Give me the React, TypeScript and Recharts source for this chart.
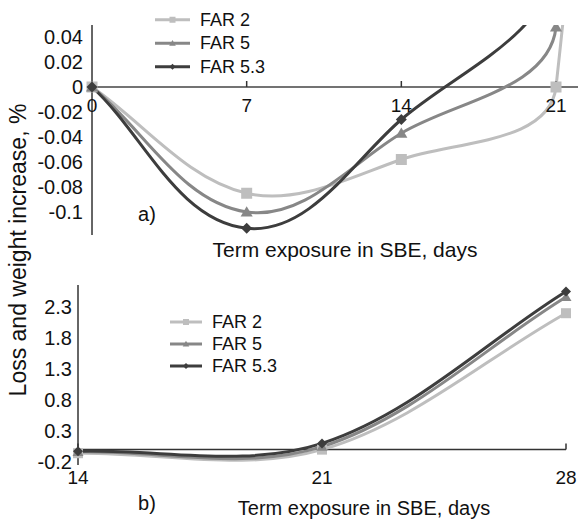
import { LineChart, Line, XAxis, YAxis, ReferenceLine, ReferenceDot } from "recharts";

// same series for both panels; a) is the 0-21 zoom, b) shows 14-28
const days = [0, 7, 14, 21, 28];
const far2 = [0, -0.085, -0.058, 0, 2.2];
const far5 = [0, -0.1, -0.037, 0.048, 2.46];
const far53 = [0, -0.113, -0.026, 0.1, 2.55];

const xTicksA = [0, 7, 14, 21];
const yTicksA = [-0.1, -0.08, -0.06, -0.04, -0.02, 0, 0.02, 0.04];
const xTicksB = [14, 21, 28];
const yTicksB = [-0.2, 0.3, 0.8, 1.3, 1.8, 2.3];

const names = ["FAR 2", "FAR 5", "FAR 5.3"];
const keys = ["far2", "far5", "far53"];
const colors = ["#bebebe", "#878787", "#3d3d3d"];
const shapes = ["square", "triangle", "diamond"];

const font = '"Liberation Sans", Arial, sans-serif';

const rows = days.map((day, i) => ({ day, far2: far2[i], far5: far5[i], far53: far53[i] }));
const dataA = rows;
const dataB = rows.filter((r) => r.day >= 14);

// excel style smoothed line: bezier through the points, tangent along the
// neighbours, handle length a third of the segment
const smoothCurve = (ctx: any) => {
  let pts: number[][] = [];
  const unit = (a: number[], b: number[]) => {
    const dx = b[0] - a[0];
    const dy = b[1] - a[1];
    const l = Math.hypot(dx, dy) || 1;
    return [dx / l, dy / l];
  };
  return {
    areaStart() {},
    areaEnd() {},
    lineStart() {
      pts = [];
    },
    point(x: number, y: number) {
      pts.push([+x, +y]);
    },
    lineEnd() {
      const n = pts.length;
      if (!n) return;
      ctx.moveTo(pts[0][0], pts[0][1]);
      for (let i = 0; i < n - 1; i++) {
        const p0 = pts[Math.max(i - 1, 0)];
        const p1 = pts[i];
        const p2 = pts[i + 1];
        const p3 = pts[Math.min(i + 2, n - 1)];
        const len = Math.hypot(p2[0] - p1[0], p2[1] - p1[1]) / 3;
        const t1 = unit(p0, p2);
        const t2 = unit(p1, p3);
        ctx.bezierCurveTo(
          p1[0] + t1[0] * len,
          p1[1] + t1[1] * len,
          p2[0] - t2[0] * len,
          p2[1] - t2[1] * len,
          p2[0],
          p2[1]
        );
      }
    },
  };
};

function Marker({ shape, cx, cy, size, color }: any) {
  if (cx == null || cy == null) return null;
  const h = size / 2;
  if (shape === "square") {
    return <rect x={cx - h} y={cy - h} width={size} height={size} fill={color} />;
  }
  if (shape === "triangle") {
    return (
      <polygon
        points={`${cx},${cy - h * 1.05} ${cx + h * 1.1},${cy + h * 0.8} ${cx - h * 1.1},${cy + h * 0.8}`}
        fill={color}
      />
    );
  }
  return <polygon points={`${cx},${cy - h} ${cx + h},${cy} ${cx},${cy + h} ${cx - h},${cy}`} fill={color} />;
}

const renderSeries = (size: number) =>
  keys.map((k, i) => (
    <Line
      key={k}
      dataKey={k}
      name={names[i]}
      type={smoothCurve as any}
      stroke={colors[i]}
      strokeWidth={3}
      dot={(p: any) => (
        <Marker key={`${k}-${p.index}`} shape={shapes[i]} cx={p.cx} cy={p.cy} size={size} color={colors[i]} />
      )}
      activeDot={false}
      isAnimationActive={false}
    />
  ));

const xTick = (label: string, gap: number) => (p: any) => (
  <g>
    <line x1={p.cx} x2={p.cx} y1={p.cy - 6} y2={p.cy} stroke="#333" strokeWidth={1.5} />
    <text
      x={p.cx}
      y={p.cy + gap}
      textAnchor="middle"
      dominantBaseline="central"
      fontSize={19}
      fontFamily={font}
      fill="#111"
    >
      {label}
    </text>
  </g>
);

function FarLegend({ left, top, rowGap, lineLen }: any) {
  return (
    <svg style={{ position: "absolute", left, top, overflow: "visible" }} width={130} height={rowGap * 3}>
      {names.map((n, i) => {
        const y = rowGap * i + rowGap / 2;
        return (
          <g key={n}>
            <line x1={0} x2={lineLen} y1={y} y2={y} stroke={colors[i]} strokeWidth={3} />
            <Marker shape={shapes[i]} cx={lineLen / 2} cy={y} size={6} color={colors[i]} />
            <text x={lineLen + 10} y={y} dominantBaseline="central" fontSize={18} fontFamily={font} fill="#111">
              {n}
            </text>
          </g>
        );
      })}
    </svg>
  );
}

const tickStyle = { fontSize: 20, fontFamily: font, fill: "#111" };

export default function App() {
  return (
    <div style={{ position: "absolute", left: 0, top: 0, width: 578, height: 520, background: "#fff" }}>
      {/* a) the plot runs past the visible box, the box cuts it like the original */}
      <div style={{ position: "absolute", left: 0, top: 25, width: 578, height: 245, overflow: "hidden" }}>
        <LineChart
          width={716}
          height={272}
          data={dataA}
          margin={{ top: 25, right: 5.33, bottom: 5, left: 0 }}
          style={{ position: "absolute", left: 0, top: -57 }}
        >
          <XAxis dataKey="day" type="number" domain={[-0.317, 28]} hide />
          <YAxis
            type="number"
            domain={[-0.1184, 0.0752]}
            allowDataOverflow
            ticks={yTicksA}
            width={85}
            tickLine={false}
            tickSize={0}
            tickMargin={2}
            axisLine={false}
            tick={tickStyle}
            interval={0}
          />
          <ReferenceLine x={0} stroke="#333" strokeWidth={1.5} />
          <ReferenceLine
            segment={[
              { x: 0, y: 0 },
              { x: 28, y: 0 },
            ]}
            stroke="#444"
            strokeWidth={1.5}
          />
          {xTicksA.map((d) => (
            <ReferenceDot key={d} x={d} y={0} r={0} shape={xTick(String(d), 18)} />
          ))}
          {renderSeries(11)}
        </LineChart>
      </div>

      {/* b) */}
      <LineChart
        width={578}
        height={260}
        data={dataB}
        margin={{ top: 25, right: 12, bottom: 55, left: 0 }}
        style={{ position: "absolute", left: 0, top: 260 }}
      >
        <XAxis dataKey="day" type="number" domain={[14, 28]} hide />
        <YAxis
          type="number"
          domain={[-0.248, 2.655]}
          ticks={yTicksB}
          width={78}
          tickLine={false}
          tickSize={4}
          tickMargin={2}
          axisLine={{ stroke: "#333", strokeWidth: 1.5 }}
          tick={tickStyle}
          interval={0}
        />
        <ReferenceLine y={0} stroke="#333" strokeWidth={1.5} />
        {xTicksB.map((d) => (
          <ReferenceDot key={d} x={d} y={0} r={0} shape={xTick(String(d), 28)} />
        ))}
        {renderSeries(10)}
      </LineChart>

      <FarLegend left={155} top={8} rowGap={23.5} lineLen={35} />
      <FarLegend left={170} top={311} rowGap={22} lineLen={32} />

      <svg
        width={578}
        height={520}
        style={{ position: "absolute", left: 0, top: 0, pointerEvents: "none" }}
        fontFamily={font}
        fill="#111"
      >
        <text x={18} y={250} transform="rotate(-90 18 250)" textAnchor="middle" dominantBaseline="central" fontSize={23}>
          Loss and weight increase, %
        </text>
        <text x={345} y={249} textAnchor="middle" dominantBaseline="central" fontSize={21}>
          Term exposure in SBE, days
        </text>
        <text x={364} y={508} textAnchor="middle" dominantBaseline="central" fontSize={20}>
          Term exposure in SBE, days
        </text>
        <text x={147} y={214} textAnchor="middle" dominantBaseline="central" fontSize={20}>
          a)
        </text>
        <text x={147} y={503} textAnchor="middle" dominantBaseline="central" fontSize={20}>
          b)
        </text>
      </svg>
    </div>
  );
}
